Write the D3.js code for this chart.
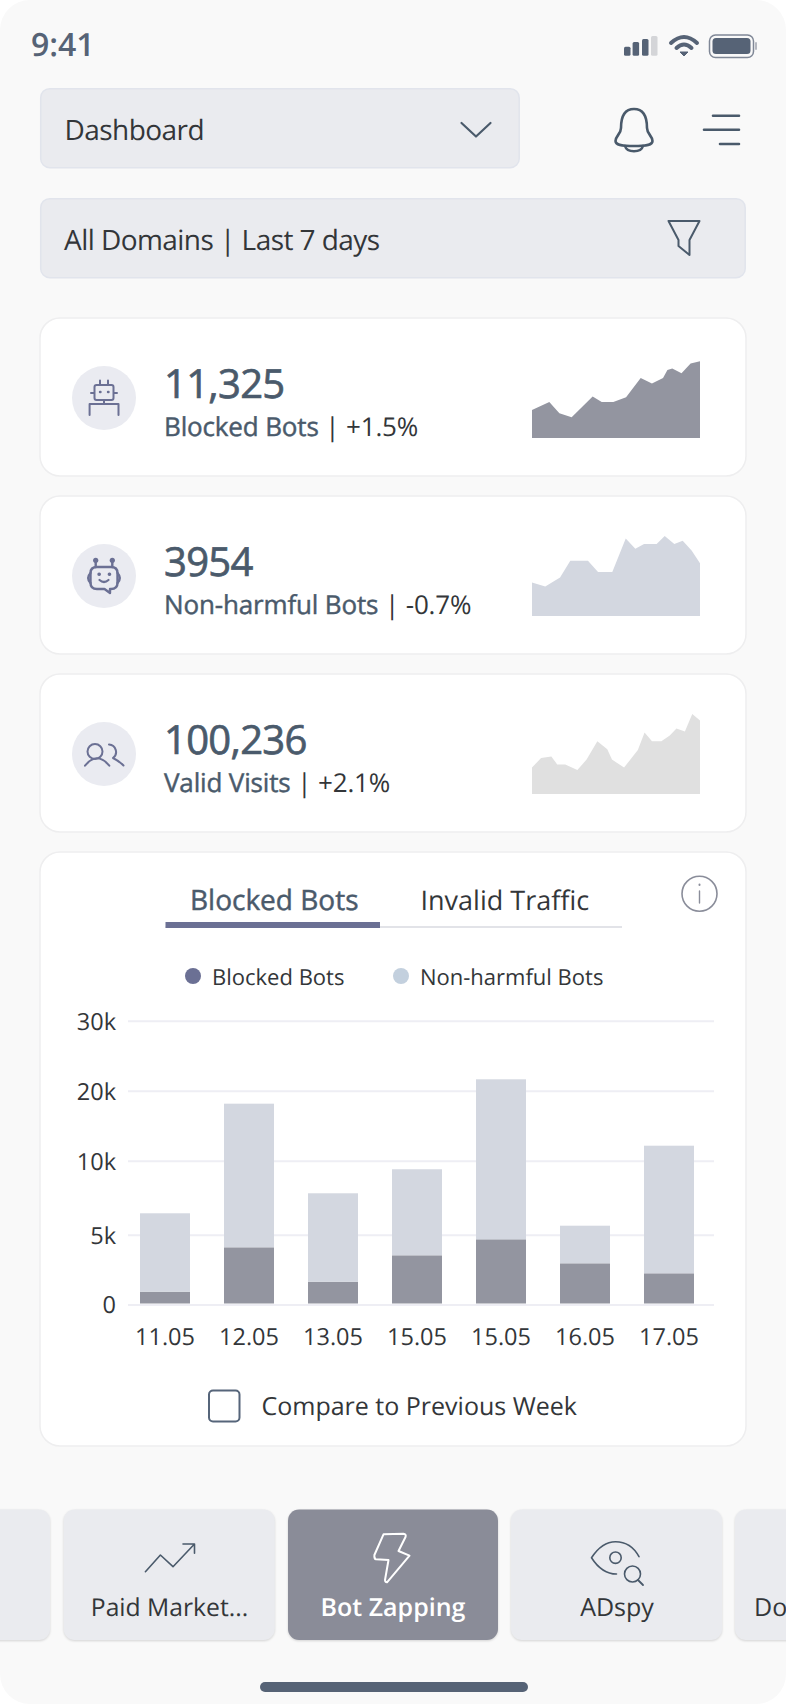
<!DOCTYPE html>
<html>
<head>
<meta charset="utf-8">
<script src="https://cdn.jsdelivr.net/npm/d3@7"></script>
<style>
html, body { margin: 0; padding: 0; background: #fff; }
svg { display: block; }
text { font-family: "Open Sans", sans-serif; text-rendering: geometricPrecision; }
.icon { fill: none; stroke-linecap: round; stroke-linejoin: round; }
</style>
</head>
<body>
<svg id="chart" width="786" height="1704"></svg>
<script>
// kpi cards
var cardValues = ["11,325", "3954", "100,236"];
var cardLabels = ["Blocked Bots", "Non-harmful Bots", "Valid Visits"];
var cardChanges = ["+1.5%", "-0.7%", "+2.1%"];

// sparklines, x and y both on a 0-100 range
var spark1X = [0, 10.3, 16.3, 23.6, 36.1, 41.5, 48.4, 56, 64.7, 71.4, 78, 80.6, 83.5, 89, 94.4, 100];
var spark1Y = [35, 45, 31, 26, 52, 45, 45, 51, 75, 68, 75, 85, 87, 81, 93, 96];
var spark2X = [0, 7.9, 16.7, 22.8, 33.3, 39.3, 47.8, 55.8, 61.5, 66.7, 74.2, 79, 84.7, 89.7, 95, 100];
var spark2Y = [42, 37, 48, 69, 69, 55, 55, 97, 84, 90, 90, 100, 90, 94, 82, 66];
var spark3X = [0, 5.4, 11.5, 15, 19.8, 27, 32.5, 38.9, 44.8, 47.6, 54.8, 63, 67, 71.4, 77, 82, 86, 91, 95.4, 100];
var spark3Y = [33, 45, 47, 37, 37, 30, 43, 66, 56, 43, 33, 55, 77, 66, 66, 73, 82, 78, 100, 92];

// bar chart
var days = ["11.05", "12.05", "13.05", "15.05", "15.05", "16.05", "17.05"];
var blockedBots = [917, 4097, 1633, 3524, 4670, 2951, 2235];
var nonHarmfulBots = [5530, 14048, 6166, 5897, 16959, 2657, 9908];
var yTicks = [0, 5000, 10000, 20000, 30000];
var yTickLabels = ["0", "5k", "10k", "20k", "30k"];

var navLabels = ["Paid Market...", "Bot Zapping", "ADspy", "Do"];

var DARK = "#4a5a6b";
var TEXT = "#333639";
var PURPLE = "#6b7094";
var svg = d3.select("#chart");

var addText = function(x, y, str, size, color, weight, anchor) {
	return svg.append("text").attr("x", x).attr("y", y).attr("font-size", size)
		.attr("fill", color).attr("font-weight", weight || 400)
		.attr("text-anchor", anchor || "start").text(str);
};
// no medium weight installed, so regular plus a thin outline
var medium = function(sel, w) {
	return sel.attr("stroke", DARK).attr("stroke-width", w);
};
var addPath = function(d, color, width) {
	return svg.append("path").attr("class", "icon").attr("d", d)
		.attr("stroke", color).attr("stroke-width", width);
};
var addBox = function(x, y, w, h, r, fill, stroke) {
	return svg.append("rect").attr("x", x).attr("y", y).attr("width", w).attr("height", h)
		.attr("rx", r).attr("fill", fill).attr("stroke", stroke || "none").attr("stroke-width", 1.5);
};

// phone background
addBox(0, 0, 786, 1704, 30, "#f9f9f9");

// status bar
addText(31, 56, "9:41", 32, "#566376", 600);
var signal = [[624, 46.7, "#566376"], [632.6, 42, "#566376"], [642, 39, "#566376"], [651, 36, "#d4d5d8"]];
signal.forEach(function(s) {
	svg.append("rect").attr("x", s[0]).attr("y", s[1]).attr("width", 6.5).attr("height", 55.7 - s[1]).attr("rx", 1.5).attr("fill", s[2]);
});
addPath("M671,43 Q684,31 697,43", "#566376", 4);
addPath("M676.5,48 Q684,41 691.5,48", "#566376", 4);
svg.append("path").attr("d", "M680,52 L688,52 L684,56 Z").attr("fill", "#566376").attr("stroke", "#566376");
addBox(709.5, 35, 44, 22.5, 6, "none", "#7f8796");
addBox(712.5, 38, 38, 16, 3.5, "#566376");
addBox(755, 42, 2, 8, 1, "#b5b8c0");

// top controls
addBox(40.7, 88.7, 478.5, 79, 9, "#eaebef", "#e1e4ec");
addText(64.5, 140, "Dashboard", 28, TEXT).attr("letter-spacing", -0.55);
addPath("M461.5,123 L476,136.5 L490.5,123", DARK, 2.2);
addBox(40.7, 198.7, 704.5, 79, 9, "#eaebef", "#e1e4ec");
addText(64, 250, "All Domains | Last 7 days", 28, TEXT).attr("letter-spacing", -0.55);
addPath("M668.5,221 H699.5 L689.5,240 V255 L678.5,246 V240 Z", DARK, 2);

// bell and menu
addPath("M634,109 C624,109 621,118 621,128 C621,134 615.5,136 615.5,141 C615.5,145 621,146 634,146 C647,146 652.5,145 652.5,141 C652.5,136 647,134 647,128 C647,118 644,109 634,109 Z", DARK, 2.6);
addPath("M625,146 C627,153 641,153 643,146", DARK, 2.6);
addPath("M713,115.7 H739 M704,129.7 H739 M720,144 H739", DARK, 2.6);

// kpi cards
var cardTops = [318, 496, 674];
var sparks = [[spark1X, spark1Y, "#9395a0"], [spark2X, spark2Y, "#d3d7e0"], [spark3X, spark3Y, "#e0e0e0"]];
var sparkBottoms = [438, 616, 794];

cardValues.forEach(function(v, i) {
	var top = cardTops[i];
	addBox(40, top, 706, 158, 20, "#fff", "#eeeeef");
	svg.append("circle").attr("cx", 104).attr("cy", top + 80).attr("r", 32).attr("fill", "#eaebf1");
	medium(addText(164, top + 80, v, 40, DARK), 0.7).attr("letter-spacing", -0.7);
	var sub = medium(addText(164, top + 118, cardLabels[i], 26, DARK), 0.45).attr("letter-spacing", -0.15);
	sub.append("tspan").attr("fill", TEXT).attr("stroke", "none").text(" | " + cardChanges[i]);

	var sx = d3.scaleLinear().domain([0, 100]).range([532, 700]);
	var sy = d3.scaleLinear().domain([0, 100]).range([sparkBottoms[i], sparkBottoms[i] - 80]);
	var area = d3.area()
		.x(function(d, j) { return sx(sparks[i][0][j]); })
		.y0(sy(0))
		.y1(function(d) { return sy(d); });
	svg.append("path").attr("d", area(sparks[i][1])).attr("fill", sparks[i][2]);
});

// card icons
addPath("M100,385 V380.5 M108,385 V380.5 M104,400 V404 M91,393 H94 M114,393 H117 M89.6,415 V404 H118.5 V415", PURPLE, 2);
addBox(94.5, 385, 19, 15, 2, "none", PURPLE).attr("stroke-width", 2);
addPath("M100,392 H100.5 M108,392 H108.5", PURPLE, 2.4);

addPath("M95.7,560.5 V567 M112.3,560.5 V567", PURPLE, 2.4);
svg.append("circle").attr("cx", 95.7).attr("cy", 560.3).attr("r", 2.6).attr("fill", PURPLE);
svg.append("circle").attr("cx", 112.3).attr("cy", 560.3).attr("r", 2.6).attr("fill", PURPLE);
addPath("M97,567 H111 Q117.5,567 117.5,573 V583 Q117.5,589 111,589 H110 L110,593 L104.5,589 H97 Q90.5,589 90.5,583 V573 Q90.5,567 97,567 Z", PURPLE, 2.4);
addPath("M90.5,573 Q86,578 90.5,583 M117.5,573 Q122,578 117.5,583", PURPLE, 2.4);
addPath("M99,574.3 H99.3 M109.3,574.3 H109.6", PURPLE, 3.4);
addPath("M99.5,580 Q104,584 108.5,580", PURPLE, 2.2);

svg.append("circle").attr("cx", 95).attr("cy", 751.5).attr("r", 7.5).attr("fill", "none").attr("stroke", PURPLE).attr("stroke-width", 2);
addPath("M85,765.7 Q97,751 109.3,765.7", PURPLE, 2);
addPath("M109,744.5 A7.5,7.5 0 0 1 113,758 Q119,761 123.5,765.5", PURPLE, 2);

// chart card
addBox(40, 852, 706, 594, 20, "#fff", "#eeeeef");
medium(addText(190, 910, "Blocked Bots", 28, DARK), 0.45);
addText(420.5, 910, "Invalid Traffic", 27, TEXT);
svg.append("rect").attr("x", 165.5).attr("y", 926).attr("width", 456.5).attr("height", 2).attr("fill", "#e2e3e8");
svg.append("rect").attr("x", 165.5).attr("y", 922).attr("width", 214.5).attr("height", 6).attr("fill", PURPLE);
svg.append("circle").attr("cx", 699.5).attr("cy", 893.7).attr("r", 17.5).attr("fill", "none").attr("stroke", "#8a8d9a").attr("stroke-width", 1.6);
addPath("M699.5,891 V903", "#8a8d9a", 1.4);
addPath("M699.5,884.5 V885", "#8a8d9a", 2);

// legend
svg.append("circle").attr("cx", 193).attr("cy", 976).attr("r", 8).attr("fill", PURPLE);
addText(212, 985, "Blocked Bots", 22, TEXT);
svg.append("circle").attr("cx", 401).attr("cy", 976).attr("r", 8).attr("fill", "#c3d0de");
addText(420, 985, "Non-harmful Bots", 22, TEXT);

// ticks are evenly spaced in the reference although the values are not
var y = d3.scaleLinear().domain(yTicks).range([1304.5, 1234.7, 1160.7, 1090.7, 1020.7]);
var x = d3.scaleBand().domain(d3.range(days.length)).range([123, 711]).paddingInner(0.405).paddingOuter(0.2025);

var yAxis = d3.axisLeft(y).tickValues(yTicks).tickSize(-586).tickPadding(12)
	.tickFormat(function(d, i) { return yTickLabels[i]; });
var yG = svg.append("g").attr("transform", "translate(128,0)").call(yAxis);
yG.select(".domain").remove();
yG.selectAll("line").attr("stroke", "#eeeef4").attr("stroke-width", 2);
yG.selectAll("text").attr("font-size", 23.5).attr("font-family", "Open Sans").attr("fill", TEXT).attr("dy", "0.36em");

var xAxis = d3.axisBottom(x).tickSize(0).tickPadding(24)
	.tickFormat(function(d) { return days[d]; });
var xG = svg.append("g").attr("transform", "translate(0,1304.5)").call(xAxis);
xG.select(".domain").remove();
xG.selectAll("text").attr("font-size", 23.5).attr("font-family", "Open Sans").attr("fill", TEXT);

var rows = days.map(function(d, i) {
	return { index: i, blocked: blockedBots[i], nonHarmful: nonHarmfulBots[i] };
});
var stacked = d3.stack().keys(["blocked", "nonHarmful"])(rows);
var barColors = ["#9395a0", "#d3d7e0"];

svg.append("g").selectAll("g").data(stacked).join("g")
	.attr("fill", function(d, i) { return barColors[i]; })
	.selectAll("rect").data(function(d) { return d; }).join("rect")
	.attr("x", function(d) { return x(d.data.index); })
	.attr("width", x.bandwidth())
	.attr("y", function(d) { return y(d[1]); })
	.attr("height", function(d) { return y(d[0]) - y(d[1]) - (d[0] === 0 ? 1 : 0); });

// compare checkbox
addBox(209, 1390.5, 30.5, 31, 4, "#fff", "#56657a").attr("stroke-width", 2);
addText(261.5, 1415, "Compare to Previous Week", 25, TEXT);

// bottom nav
var navBoxes = [[-40, 90, "#eaebef"], [63.7, 211, "#eaebef"], [288, 210, "#8a8c98"], [511, 211, "#eaebef"], [735, 211, "#eaebef"]];
navBoxes.forEach(function(b) {
	addBox(b[0], 1509.5, b[1], 130.5, 11, b[2]).style("filter", "drop-shadow(0 1px 1px rgba(0,0,0,0.15))");
});
addText(169.5, 1616, navLabels[0], 24.7, TEXT, 400, "middle");
addText(393, 1616, navLabels[1], 25, "#fff", 600, "middle");
addText(617, 1616, navLabels[2], 25, TEXT, 400, "middle");
addText(754, 1616, navLabels[3], 25, TEXT);

addPath("M145.4,1571.7 L160.4,1555 L173,1566.7 L194.5,1544 M183,1544 H194.5 V1553.3", DARK, 1.6);
addPath("M383.5,1534.3 L403.5,1533.7 Q406.5,1534 405.5,1537 L398.5,1551 L409.5,1555.7 L387,1582.3 Q385,1582 385,1580 L388.5,1560 L376,1559.3 Q374,1559 374.4,1555 Z", "#fff", 2);
addPath("M639,1556.7 Q631,1541.7 615.5,1541.7 Q602,1541.7 591.5,1557.7 Q602,1574 616.5,1574", DARK, 1.6);
svg.append("circle").attr("cx", 615.5).attr("cy", 1557.7).attr("r", 5.7).attr("fill", "none").attr("stroke", DARK).attr("stroke-width", 1.6);
svg.append("circle").attr("cx", 632.5).attr("cy", 1574).attr("r", 8).attr("fill", "none").attr("stroke", DARK).attr("stroke-width", 1.6);
addPath("M638,1580 L643,1585", DARK, 1.8);

// home indicator
addBox(260, 1682, 268, 10, 5, "#566376");
</script>
</body>
</html>
